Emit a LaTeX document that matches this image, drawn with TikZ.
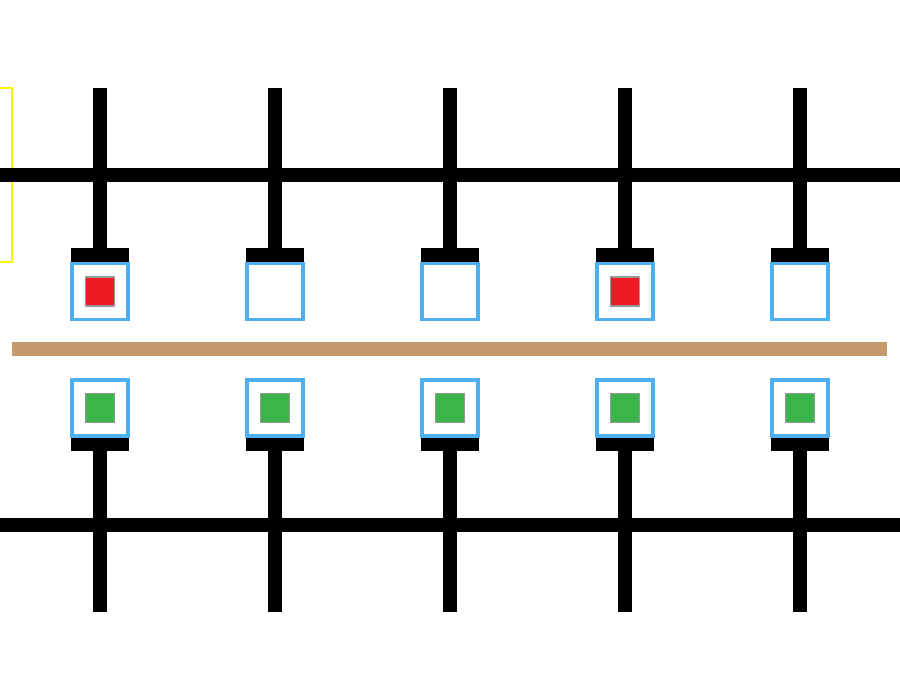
\documentclass[tikz,border=0pt]{standalone}
\usetikzlibrary{positioning}
\definecolor{wireblue}{RGB}{77,176,240}
\definecolor{fillred}{RGB}{237,28,36}
\definecolor{fillgreen}{RGB}{57,181,74}
\definecolor{railbrown}{RGB}{196,154,108}
\def\nofill{none}
\begin{document}
\begin{tikzpicture}[x=0.02cm, y=-0.02cm,
    cell/.style={rectangle, draw=wireblue, line width=2pt, minimum size=1.12cm, inner sep=0pt, fill=white},
    dot/.style={rectangle, draw=black!40, line width=0.6pt, minimum size=0.58cm, inner sep=0pt},
    bar/.style={line width=0.28cm},
    stub/.style={fill=black}
]
    \useasboundingbox (0,0) rectangle (900,700);

    % Left marker
    \draw[yellow, line width=1.5pt] (-10,88) rectangle (12,262);

    % Horizontal bars
    \draw[bar] (0,175) -- (900,175);
    \draw[bar] (0,525) -- (900,525);
    \draw[railbrown, line width=0.28cm] (12,349) -- (887,349);

    % Columns
    \foreach \x/\c [count=\i] in {100/fillred, 275/none, 450/none, 625/fillred, 800/none} {
        \draw[bar] (\x,88) -- (\x,250);
        \fill[stub] (\x-29,248) rectangle (\x+29,262);
        \node[cell] (top\i) at (\x,291.5) {};
        \edef\cur{\c}
        \ifx\cur\nofill\else
            \node[dot, fill=\c] (topdot\i) at (top\i) {};
        \fi
        \draw[bar] (\x,448) -- (\x,612);
        \fill[stub] (\x-29,437) rectangle (\x+29,451);
        \node[cell] (bot\i) at (\x,408) {};
        \node[dot, fill=fillgreen] (botdot\i) at (bot\i) {};
    }
\end{tikzpicture}
\end{document}
